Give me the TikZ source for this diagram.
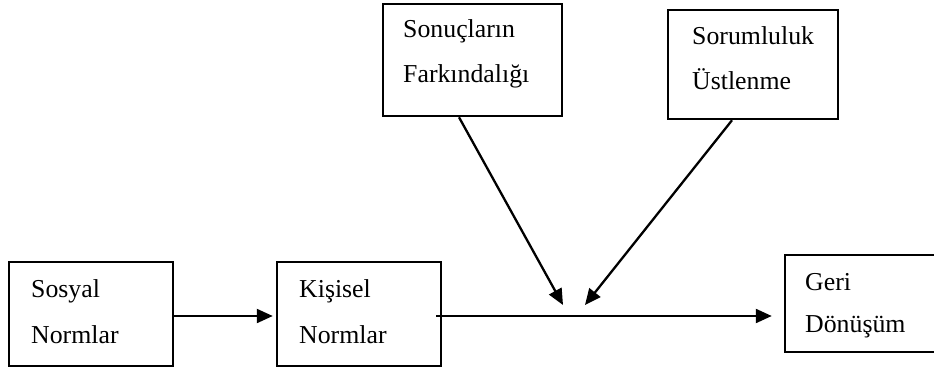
\documentclass[tikz,border=0pt]{standalone}
\usepackage{fontspec}
\setmainfont{Liberation Serif}
\usetikzlibrary{arrows.meta}
\begin{document}
\begin{tikzpicture}[x=1pt,y=-1pt,
  box/.style={draw=black,line width=2.5pt,rectangle,inner sep=0pt},
  txt/.style={anchor=base west,inner sep=0pt,font=\fontsize{25.8}{30}\selectfont},
  arr/.style={line width=2.3pt,-{Triangle[length=16pt,width=14pt]}}]
\clip (0,0) rectangle (934,374);
\fill[white] (0,0) rectangle (934,374);

% boxes
\node[box,minimum width=164pt,minimum height=104pt] (sosyal) at (91,314) {};
\node[box,minimum width=164pt,minimum height=104pt] (kisisel) at (359,314) {};
\node[box,minimum width=179pt,minimum height=112pt] (sonuc) at (472.5,60) {};
\node[box,minimum width=170pt,minimum height=109pt] (sorum) at (753,64.5) {};
\node[box,minimum width=151pt,minimum height=97pt] (geri) at (860.5,303.5) {};

% labels
\node[txt] (sosyalA) at (31,297) {Sosyal};
\node[txt] (sosyalB) at (31,343) {Normlar};
\node[txt] (kisiselA) at (299,297) {Kişisel};
\node[txt] (kisiselB) at (299,343) {Normlar};
\node[txt] (sonucA) at (403,38) {Sonuçların};
\node[txt] (sonucB) at (403,83) {Farkındalığı};
\node[txt] (sorumA) at (692,45) {Sorumluluk};
\node[txt] (sorumB) at (692,90) {Üstlenme};
\node[txt] (geriA) at (805,290) {Geri};
\node[txt] (geriB) at (805,332) {Dönüşüm};

% moderating arrows end just above the main path
\coordinate (jl) at (563,305);
\coordinate (jr) at (585,305);

% connectors
\draw[arr] ([yshift=-2pt]sosyal.east) -- ([xshift=-3pt,yshift=-2pt]kisisel.west);
\draw[arr] ([xshift=-6pt,yshift=-2pt]kisisel.east) -- ([xshift=-12pt,yshift=-12.5pt]geri.west);
\draw[arr] ([xshift=-13.5pt]sonuc.south) -- (jl);
\draw[arr] ([xshift=-21pt]sorum.south) -- (jr);
\end{tikzpicture}
\end{document}
